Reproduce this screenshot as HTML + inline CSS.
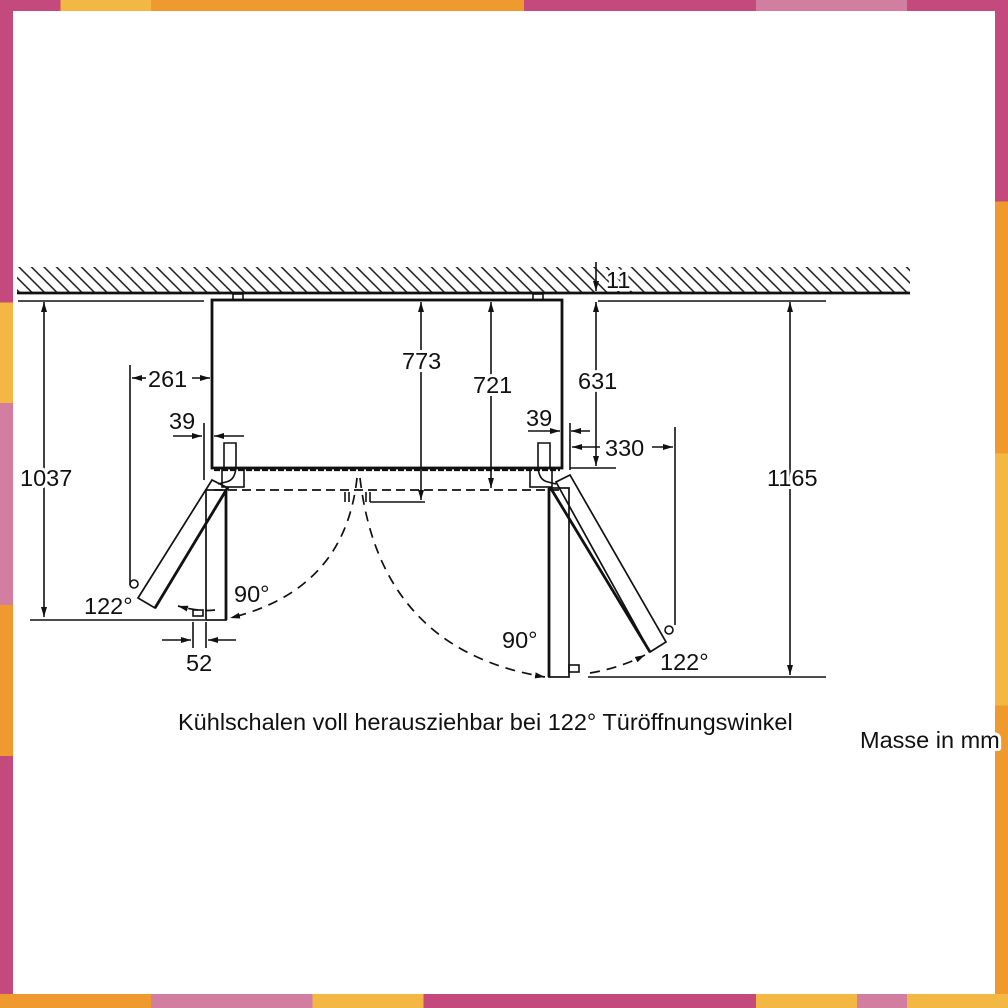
<!DOCTYPE html>
<html><head><meta charset="utf-8"><style>
html,body{margin:0;padding:0;background:#fff}
#w{position:relative;width:1008px;height:1008px;overflow:hidden;background:linear-gradient(90deg,#c44a7e 0 6%,#f3b843 6% 15%,#ef9a2f 15% 52%,#c44a7e 52% 75%,#d17ea0 75% 90%,#c44a7e 90%)}
#in{position:absolute;left:13px;top:11px;width:982px;height:983px;background:#fff}
svg{position:absolute;left:0;top:0}
text{font-family:"Liberation Sans",sans-serif;fill:#111;stroke:#fff;stroke-width:6px;paint-order:stroke;stroke-linejoin:round}
</style></head><body><div id="w">
<div style="position:absolute;left:0;top:0;width:13px;height:1008px;background:linear-gradient(#c44a7e 0 30%,#f3b843 30% 40%,#d17ea0 40% 60%,#ef9a2f 60% 75%,#c44a7e 75%)"></div>
<div style="position:absolute;right:0;top:0;width:13px;height:1008px;background:linear-gradient(#c44a7e 0 20%,#ef9a2f 20% 45%,#f3b843 45% 70%,#ef9a2f 70%)"></div>
<div style="position:absolute;left:0;bottom:0;width:1008px;height:14px;background:linear-gradient(90deg,#ef9a2f 0 15%,#d17ea0 15% 31%,#f3b843 31% 42%,#c44a7e 42% 75%,#f3b843 75% 85%,#d17ea0 85% 90%,#f3b843 90%)"></div>
<div id="in"></div>
<svg width="1008" height="1008" viewBox="0 0 1008 1008">
<defs>
<pattern id="h" width="12.5" height="26" patternUnits="userSpaceOnUse" patternTransform="skewX(45)"><line x1="2" y1="0" x2="2" y2="26" stroke="#222" stroke-width="2.2"/></pattern>
<marker id="a" viewBox="0 0 10 10" refX="10" refY="5" markerWidth="10" markerHeight="10" orient="auto-start-reverse" markerUnits="userSpaceOnUse"><path d="M0,2 L10,5 L0,8z" fill="#111"/></marker>
</defs>
<rect x="17" y="267" width="893" height="26" fill="url(#h)"/>
<g stroke="#111" fill="none" stroke-width="1.6">
<line x1="17" y1="293" x2="910" y2="293" stroke-width="2.8"/>
<line x1="18" y1="301" x2="204" y2="301"/><line x1="598" y1="301" x2="826" y2="301"/>
<rect x="212" y="300" width="350" height="168" stroke-width="2.8"/>
<rect x="233" y="294" width="10" height="6"/><rect x="533" y="294" width="10" height="6"/>
<line x1="214" y1="470" x2="560" y2="470" stroke-dasharray="6 2" stroke-width="2.2"/>
<line x1="214" y1="490" x2="560" y2="490" stroke-dasharray="9 5" stroke-width="1.8"/>
<path d="M224,467 V443 H236 V465 Q236,480 226,482 L218,484"/><rect x="222" y="468" width="22" height="19"/>
<path d="M550,467 V443 H538 V465 Q538,480 548,482 L556,484"/><rect x="530" y="468" width="22" height="19"/>
<rect x="206" y="490" width="20" height="130" stroke-width="1.7"/><line x1="226" y1="490" x2="226" y2="620" stroke-width="2.8"/>
<path d="M212,480 L138,598 L155,608 L228,488z" stroke-width="1.7"/><line x1="155" y1="608" x2="228" y2="487" stroke-width="2.8"/>
<circle cx="134" cy="584" r="4"/><rect x="193" y="610" width="10" height="6"/>
<rect x="549" y="488" width="20" height="189" stroke-width="1.7"/><line x1="549" y1="488" x2="549" y2="677" stroke-width="2.8"/>
<rect x="569" y="665" width="10" height="7"/>
<path d="M556,482 L650,652 L666,642 L570,475z" stroke-width="1.7"/><line x1="550" y1="487" x2="650" y2="652" stroke-width="2.8"/>
<circle cx="669" cy="630" r="4"/>
<path d="M345,492 v10 M349,492 v10 M366,492 v10 M370,492 v10"/><line x1="370" y1="502" x2="425" y2="502"/>
<path d="M357,478 Q345,590 230,618" stroke-dasharray="10 7" stroke-width="1.7" marker-end="url(#a)"/>
<path d="M215,610 Q200,612 178,606" stroke-dasharray="10 7" stroke-width="1.7" marker-end="url(#a)"/>
<path d="M360,478 Q380,650 545,677" stroke-dasharray="10 7" stroke-width="1.7" marker-end="url(#a)"/>
<path d="M590,673 Q620,668 645,655" stroke-dasharray="10 7" stroke-width="1.7" marker-end="url(#a)"/>
<line x1="44" y1="302" x2="44" y2="617" marker-start="url(#a)" marker-end="url(#a)"/>
<line x1="30" y1="620" x2="205" y2="620"/>
<line x1="790" y1="302" x2="790" y2="675" marker-start="url(#a)" marker-end="url(#a)"/>
<line x1="588" y1="677" x2="826" y2="677"/>
<line x1="421" y1="302" x2="421" y2="500" marker-start="url(#a)" marker-end="url(#a)"/>
<line x1="491" y1="302" x2="491" y2="488" marker-start="url(#a)" marker-end="url(#a)"/>
<line x1="596" y1="302" x2="596" y2="466" marker-start="url(#a)" marker-end="url(#a)"/>
<line x1="570" y1="468" x2="616" y2="468"/>
<line x1="596" y1="262" x2="596" y2="291" marker-end="url(#a)"/>
<line x1="130" y1="365" x2="130" y2="585"/>
<line x1="132" y1="378" x2="146" y2="378" marker-start="url(#a)"/><line x1="192" y1="378" x2="210" y2="378" marker-end="url(#a)"/>
<line x1="204" y1="423" x2="204" y2="480"/>
<line x1="173" y1="436" x2="202" y2="436" marker-end="url(#a)"/><line x1="214" y1="436" x2="244" y2="436" marker-start="url(#a)"/>
<line x1="528" y1="431" x2="560" y2="431" marker-end="url(#a)"/><line x1="571" y1="431" x2="590" y2="431" marker-start="url(#a)"/>
<line x1="570" y1="423" x2="570" y2="470"/>
<line x1="572" y1="447" x2="600" y2="447" marker-start="url(#a)"/><line x1="652" y1="447" x2="673" y2="447" marker-end="url(#a)"/>
<line x1="675" y1="427" x2="675" y2="625"/>
<line x1="193" y1="622" x2="193" y2="648"/><line x1="206" y1="622" x2="206" y2="648"/>
<line x1="162" y1="640" x2="191" y2="640" marker-end="url(#a)"/><line x1="208" y1="640" x2="236" y2="640" marker-start="url(#a)"/>
</g>
<g font-size="23.5">
<text x="606" y="288">11</text>
<text x="402" y="369">773</text>
<text x="473" y="393">721</text>
<text x="578" y="389">631</text>
<text x="148" y="387">261</text>
<text x="169" y="429">39</text>
<text x="526" y="426">39</text>
<text x="605" y="456">330</text>
<text x="20" y="486">1037</text>
<text x="767" y="486">1165</text>
<text x="84" y="614">122°</text>
<text x="234" y="602">90°</text>
<text x="186" y="671">52</text>
<text x="502" y="648">90°</text>
<text x="660" y="670">122°</text>
<text x="178" y="730">Kühlschalen voll herausziehbar bei 122° Türöffnungswinkel</text>
<text x="860" y="748">Masse in mm</text>
</g>
</svg></div></body></html>
